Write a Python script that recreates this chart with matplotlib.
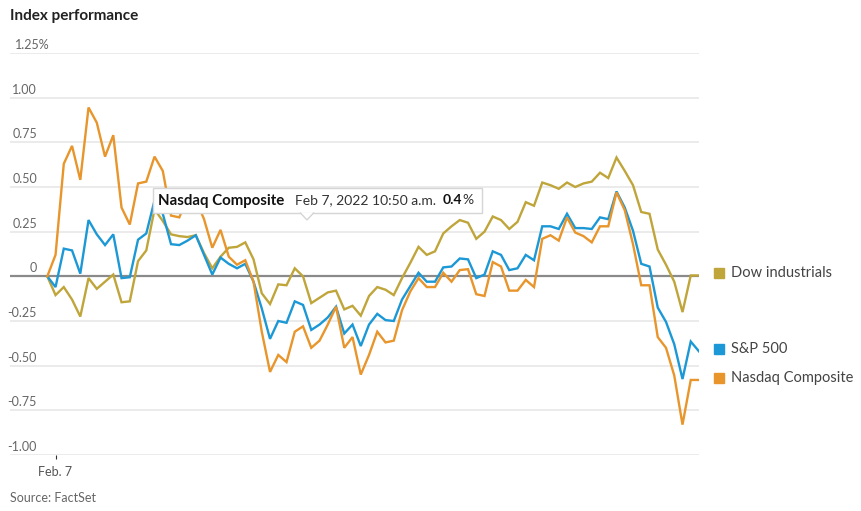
import matplotlib
matplotlib.use("Agg")
import matplotlib.pyplot as plt
import matplotlib.transforms as mtransforms
from matplotlib.patches import Rectangle, Polygon

# valores (cambio % intradia, cada 5 min, primer punto = cierre previo)
nasdaq = [0, 0.12, 0.63, 0.73, 0.54, 0.945, 0.86, 0.67, 0.79, 0.385,
          0.29, 0.52, 0.53, 0.67, 0.59, 0.34, 0.33, 0.44, 0.43, 0.32,
          0.16, 0.26, 0.11, 0.065, 0.09, -0.03, -0.31, -0.535, -0.44, -0.48,
          -0.31, -0.28, -0.40, -0.36, -0.27, -0.17, -0.40, -0.34, -0.55, -0.44,
          -0.31, -0.37, -0.36, -0.19, -0.085, -0.01, -0.06, -0.06, 0.02, -0.03,
          0.035, 0.04, -0.10, -0.11, 0.08, 0.055, -0.08, -0.08, -0.02, -0.06,
          0.21, 0.23, 0.20, 0.33, 0.245, 0.225, 0.19, 0.28, 0.28, 0.47,
          0.37, 0.18, -0.05, -0.05, -0.34, -0.40, -0.555, -0.83, -0.58, -0.58]
sp500 = [0, -0.06, 0.155, 0.145, 0.015, 0.315, 0.235, 0.175, 0.235, -0.01,
         -0.005, 0.205, 0.24, 0.425, 0.35, 0.18, 0.175, 0.20, 0.23, 0.12,
         0.01, 0.105, 0.07, 0.045, 0.07, -0.03, -0.18, -0.35, -0.25, -0.26,
         -0.14, -0.16, -0.30, -0.27, -0.23, -0.17, -0.32, -0.27, -0.39, -0.27,
         -0.21, -0.245, -0.25, -0.13, -0.055, 0.02, -0.03, -0.03, 0.05, 0.055,
         0.10, 0.095, -0.01, 0.01, 0.14, 0.12, 0.035, 0.045, 0.12, 0.09,
         0.28, 0.28, 0.265, 0.35, 0.27, 0.27, 0.265, 0.33, 0.32, 0.475,
         0.385, 0.255, 0.07, 0.055, -0.175, -0.255, -0.38, -0.575, -0.365, -0.42]
dow = [0, -0.105, -0.06, -0.13, -0.225, -0.01, -0.07, -0.03, 0.01, -0.145,
       -0.14, 0.085, 0.145, 0.375, 0.31, 0.235, 0.225, 0.22, 0.23, 0.13,
       0.045, 0.11, 0.16, 0.165, 0.19, 0.095, -0.095, -0.155, -0.045, -0.05,
       0.045, 0.0, -0.15, -0.12, -0.09, -0.08, -0.185, -0.165, -0.22, -0.11,
       -0.06, -0.075, -0.105, -0.01, 0.075, 0.165, 0.12, 0.14, 0.24, 0.28,
       0.315, 0.30, 0.21, 0.25, 0.335, 0.315, 0.265, 0.305, 0.415, 0.395,
       0.525, 0.51, 0.49, 0.525, 0.50, 0.52, 0.53, 0.58, 0.55, 0.665,
       0.59, 0.51, 0.36, 0.35, 0.15, 0.065, -0.03, -0.20, 0.005, 0.005]

series_names = ["Dow industrials", "S&P 500", "Nasdaq Composite"]
series_colors = ["#bfa53a", "#1b98d5", "#e8952b"]
y_ticks = [-1.0, -0.75, -0.5, -0.25, 0, 0.25, 0.5, 0.75, 1.0, 1.25]
y_labels = ["-1.00", "-0.75", "-0.50", "-0.25", "0", "0.25", "0.50", "0.75", "1.00", "1.25%"]
x_tick_pos = [1]
x_tick_labels = ["Feb. 7"]

plt.rcParams['font.family'] = ['Lato', 'DejaVu Sans']

W, H = 861, 511
fig = plt.figure(figsize=(W / 100, H / 100), dpi=100)
ax = fig.add_axes([10 / W, 1 - 455 / H, 689 / W, 402 / H])


def px(x, y):
    return x / W, 1 - y / H


x = list(range(len(dow)))
for vals, c in zip([dow, sp500, nasdaq], series_colors):
    ax.plot(x, vals, color=c, lw=1.7, zorder=3, solid_joinstyle='miter')

ax.set_xlim(-4.52, len(dow) - 1)
ax.set_ylim(-1.0, 1.25)
for s in ax.spines.values():
    s.set_visible(False)
ax.set_yticks([])
ax.set_xticks(x_tick_pos)
ax.set_xticklabels(x_tick_labels, fontsize=9, color="#555555")
ax.tick_params(axis='x', length=3, width=0.8, color="#333333", pad=5)

tr = ax.get_yaxis_transform()
for yv, lab in zip(y_ticks, y_labels):
    if yv == 0:
        ax.axhline(0, color="#8a8a8a", lw=1.6, zorder=2)
    else:
        ax.axhline(yv, color="#e8e8e8", lw=1.2, zorder=1)
    if lab.endswith("%"):
        # la primera etiqueta lleva el % colgando a la derecha
        ax.text(0.0065, yv + 0.012, lab, transform=tr, ha='left', va='bottom',
                fontsize=9, color="#666666")
    else:
        ax.text(0.0392, yv + 0.012, lab, transform=tr, ha='right', va='bottom',
                fontsize=9, color="#666666")

# etiquetas a la derecha
bt = mtransforms.blended_transform_factory(fig.transFigure, ax.transData)
for vals, name, c in zip([dow, sp500, nasdaq], series_names, series_colors):
    yv = vals[-1] + 0.012
    ax.plot([719 / W], [yv], marker='s', ms=7, color=c, transform=bt, clip_on=False)
    ax.text(731 / W, yv, name, transform=bt, ha='left', va='center',
            fontsize=10.5, color="#444444")

fig.text(*px(10, 16), "Index performance", fontsize=11, fontweight='bold',
         color="#222222", ha='left', va='center')
fig.text(*px(10, 498), "Source: FactSet", fontsize=9, color="#666666",
         ha='left', va='center')

# tooltip
x0, y0 = px(153, 213)
x1, y1 = px(482, 188)
fig.patches.append(Rectangle((x0, y0), x1 - x0, y1 - y0, transform=fig.transFigure,
                             facecolor='white', edgecolor='#d5d5d5', lw=1, zorder=5))
fig.patches.append(Polygon([px(300, 212.5), px(307, 220), px(314, 212.5)], closed=False,
                           transform=fig.transFigure, facecolor='white',
                           edgecolor='#d5d5d5', lw=1, zorder=6))
fig.text(*px(158, 200.5), "Nasdaq Composite", fontsize=10.8, fontweight='bold',
         color="#111111", ha='left', va='center', zorder=7)
fig.text(*px(295, 200.5), "Feb 7, 2022 10:50 a.m.", fontsize=10,
         color="#333333", ha='left', va='center', zorder=7)
fig.text(*px(443, 200.5), "0.4", fontsize=10, fontweight='bold',
         color="#111111", ha='left', va='center', zorder=7)
fig.text(*px(462.5, 200.5), "%", fontsize=10, color="#333333",
         ha='left', va='center', zorder=7)

fig.savefig("out.png", dpi=100)
